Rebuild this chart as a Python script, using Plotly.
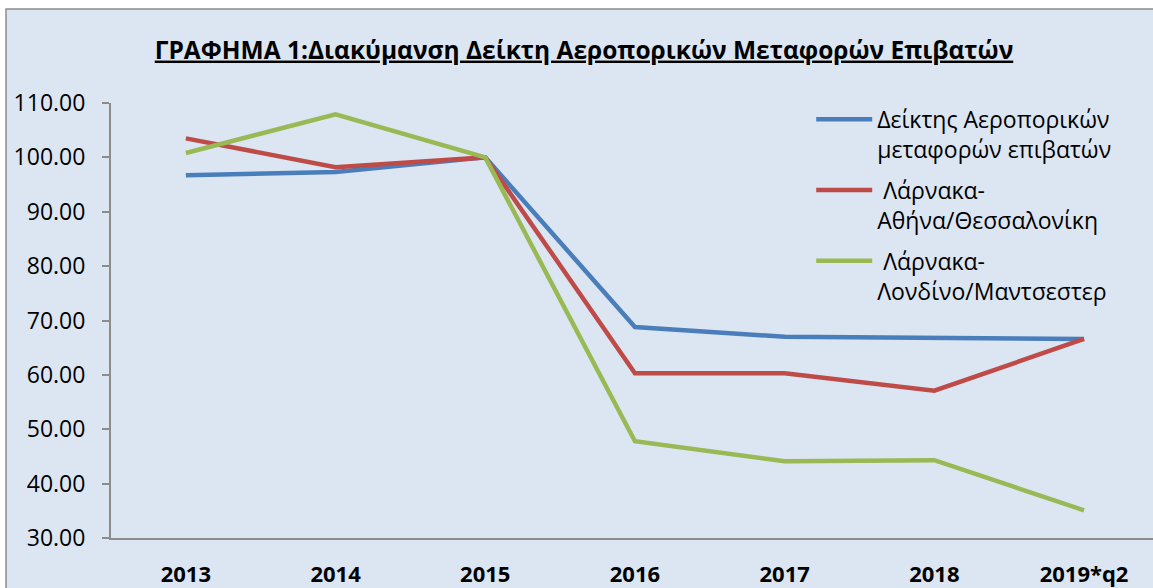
import plotly.graph_objects as go

categories = ["2013", "2014", "2015", "2016", "2017", "2018", "2019*q2"]
index_all = [96.7, 97.3, 100.0, 68.8, 67.0, 66.8, 66.6]
larnaca_athens = [103.5, 98.2, 100.0, 60.3, 60.3, 57.1, 66.6]
larnaca_london = [100.8, 107.9, 100.0, 47.8, 44.1, 44.3, 35.1]

series_names = [
    "Δείκτης Αεροπορικών<br>μεταφορών επιβατών",
    " Λάρνακα-<br>Αθήνα/Θεσσαλονίκη",
    " Λάρνακα-<br>Λονδίνο/Μαντσεστερ",
]
series_values = [index_all, larnaca_athens, larnaca_london]
colors = ["#4a7ebb", "#be4b48", "#98b954"]

W, H = 1153, 588
ml, mr, mt, mb = 111, 0, 103, 50
pw, ph = W - ml - mr, H - mt - mb

FONT = "Open Sans"

fig = go.Figure()
for i, (name, vals, col) in enumerate(zip(series_names, series_values, colors)):
    fig.add_trace(go.Scatter(
        x=categories, y=vals, name=name, mode="lines",
        line=dict(color=col, width=4.5), legendgroup=f"g{i}",
    ))

# background panel with grey border
x0 = (6 - ml) / pw
y1 = (H - mb - 9) / ph
fig.add_shape(type="rect", xref="paper", yref="paper",
              x0=x0, x1=1.05, y0=-0.3, y1=y1,
              fillcolor="#dce6f2", line=dict(color="#8c8c8c", width=1.5),
              layer="below")

fig.update_layout(
    width=W, height=H,
    margin=dict(l=ml, r=mr, t=mt, b=mb),
    paper_bgcolor="white",
    plot_bgcolor="rgba(0,0,0,0)",
    font=dict(family=FONT, color="black"),
    title=dict(
        text="<b><u>ΓΡΑΦΗΜΑ 1:Διακύμανση Δείκτη Αεροπορικών Μεταφορών Επιβατών</u></b>",
        x=584 / W, xanchor="center", y=1 - 50 / H, yanchor="middle",
        font=dict(size=24.5, family=FONT, color="black"),
    ),
    showlegend=True,
    legend=dict(
        x=0.672, xanchor="left", y=1.012, yanchor="top",
        bgcolor="rgba(0,0,0,0)", font=dict(size=23, family=FONT),
        valign="top", tracegroupgap=8, itemwidth=56,
    ),
    xaxis=dict(
        type="category", range=[-0.5, -0.5 + pw / 149.7],
        showline=True, linecolor="#8c8c8c", linewidth=2,
        showgrid=False, ticks="", zeroline=False,
        tickfont=dict(size=22, family=FONT),
        tickprefix="<b>", ticksuffix="</b>",
        ticklabelstandoff=16,
    ),
    yaxis=dict(
        range=[30, 110], dtick=10, tick0=30, tickformat=".2f",
        showline=True, linecolor="#8c8c8c", linewidth=2,
        ticks="outside", ticklen=7, tickcolor="#8c8c8c", tickwidth=2,
        showgrid=False, zeroline=False,
        tickfont=dict(size=23, family=FONT),
        ticklabelstandoff=12,
    ),
)

fig.write_html("out.html", config={"displayModeBar": False},
               post_script="document.body.style.margin='0';")
